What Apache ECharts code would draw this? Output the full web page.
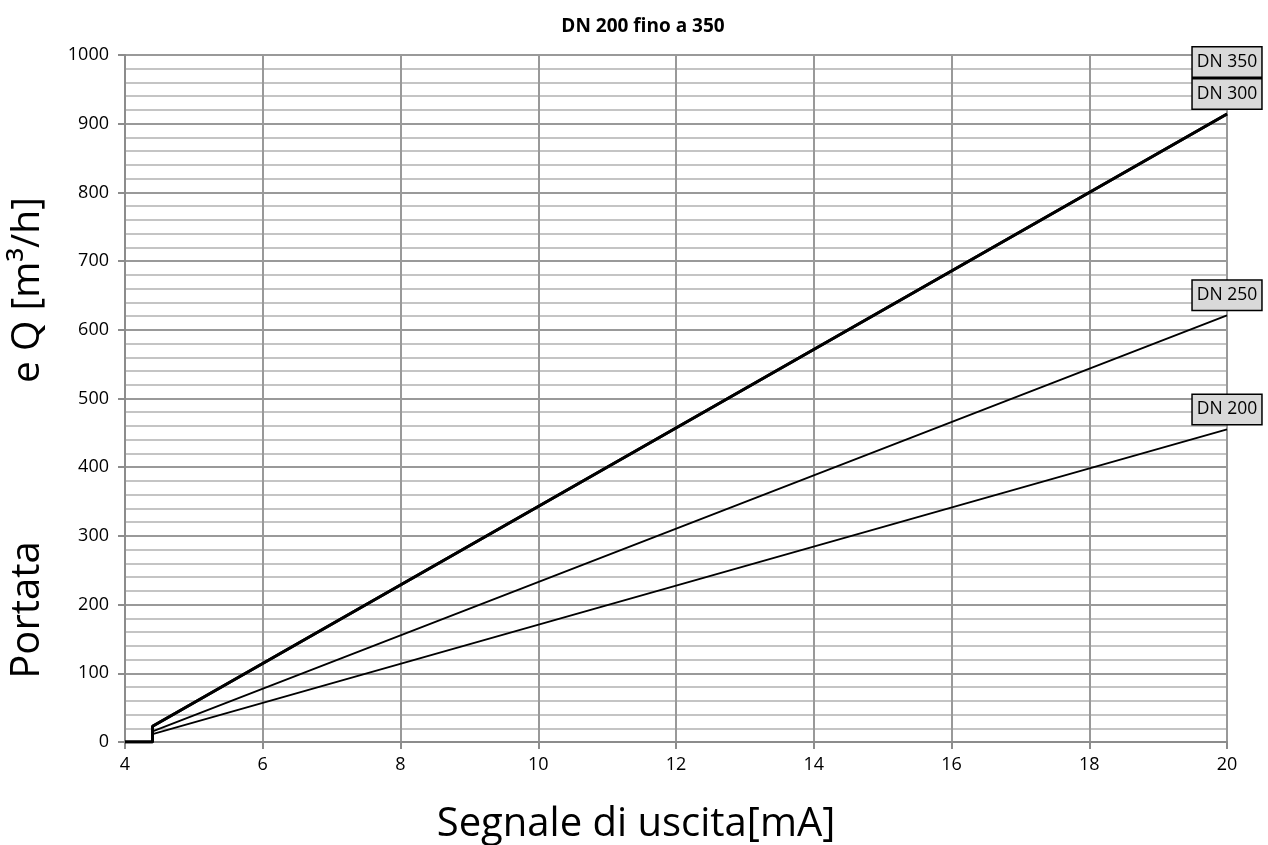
<!DOCTYPE html>
<html>
<head>
<meta charset="utf-8">
<script src="https://cdn.jsdelivr.net/npm/echarts@6/dist/echarts.min.js"></script>
<style>html,body{margin:0;padding:0;background:#fff;}#c{width:1268px;height:845px;}</style>
</head>
<body>
<div id="c"></div>
<script>
var seriesNames = ['DN 200', 'DN 250', 'DN 300', 'DN 350'];
var dn200 = [[4, 0], [4.4, 0], [4.4, 11.4], [20, 455]];
var dn250 = [[4, 0], [4.4, 0], [4.4, 15.5], [20, 621]];
var dn300 = [[4, 0], [4.4, 0], [4.4, 22.9], [20, 914]];
var dn350 = [[4, 0], [4.4, 0], [4.4, 22.9], [20, 914]];
var labelOffsets = [[0, -20], [0, -20], [0, -20], [0, -52]];
var xTicks = [4, 6, 8, 10, 12, 14, 16, 18, 20];
var yTicks = [0, 100, 200, 300, 400, 500, 600, 700, 800, 900, 1000];

var chart = echarts.init(document.getElementById('c'));
var FONT = '"Open Sans", "Noto Sans", sans-serif';
var datasets = [dn200, dn250, dn300, dn350];
var widths = [1.8, 1.8, 2.8, 2.8];

var series = datasets.map(function (d, i) {
  var last = d[d.length - 1];
  return {
    name: seriesNames[i],
    type: 'line',
    data: d,
    symbol: 'none',
    lineStyle: { color: '#000', width: widths[i] },
    z: 3,
    markPoint: {
      symbol: 'rect',
      symbolSize: 1,
      itemStyle: { color: 'rgba(0,0,0,0)' },
      data: [{ coord: last }],
      label: {
        show: true,
        formatter: seriesNames[i],
        position: 'inside',
        offset: labelOffsets[i],
        color: '#000',
        fontFamily: FONT,
        fontSize: 17.5,
        backgroundColor: '#d9d9d9',
        borderColor: '#000',
        borderWidth: 1.5,
        padding: [6, 4, 5, 4]
      }
    }
  };
});

chart.setOption({
  animation: false,
  backgroundColor: '#fff',
  title: {
    text: 'DN 200 fino a 350',
    left: 638,
    top: 12,
    textAlign: 'center',
    textStyle: { fontFamily: FONT, fontSize: 19, fontWeight: 'bold', color: '#000' }
  },
  grid: { left: 125, right: 41, top: 55, bottom: 103 },
  xAxis: {
    type: 'value',
    min: 4, max: 20, interval: 2,
    axisLine: { show: true, lineStyle: { color: '#8c8c8c', width: 2 } },
    axisTick: { show: true, length: 7, lineStyle: { color: '#8c8c8c', width: 2 } },
    axisLabel: { fontFamily: FONT, fontSize: 18, color: '#000', margin: 14,
      formatter: function (v) { return xTicks.indexOf(v) >= 0 ? String(v) : ''; } },
    splitLine: { show: true, lineStyle: { color: '#999', width: 2 } }
  },
  yAxis: {
    type: 'value',
    min: 0, max: 1000, interval: 100,
    axisLine: { show: true, lineStyle: { color: '#8c8c8c', width: 2 } },
    axisTick: { show: true, length: 7, lineStyle: { color: '#8c8c8c', width: 2 } },
    axisLabel: { fontFamily: FONT, fontSize: 18, color: '#000', margin: 16,
      formatter: function (v) { return yTicks.indexOf(v) >= 0 ? String(v) : ''; } },
    splitLine: { show: true, lineStyle: { color: '#999', width: 2 } },
    minorTick: { show: false, splitNumber: 5 },
    minorSplitLine: { show: true, lineStyle: { color: '#c4c4c4', width: 2 } }
  },
  graphic: [
    { type: 'text', x: 28, y: 610, rotation: Math.PI / 2, style: { text: 'Portata', font: '40px ' + FONT, fill: '#000', textAlign: 'center', textVerticalAlign: 'middle' } },
    { type: 'text', x: 28, y: 290, rotation: Math.PI / 2, style: { text: 'e Q [m³/h]', font: '39px ' + FONT, fill: '#000', textAlign: 'center', textVerticalAlign: 'middle' } },
    { type: 'text', x: 636, y: 845, style: { text: 'Segnale di uscita[mA]', font: '40px ' + FONT, fill: '#000', textAlign: 'center', textVerticalAlign: 'bottom' } }
  ],
  series: series
});
</script>
</body>
</html>
